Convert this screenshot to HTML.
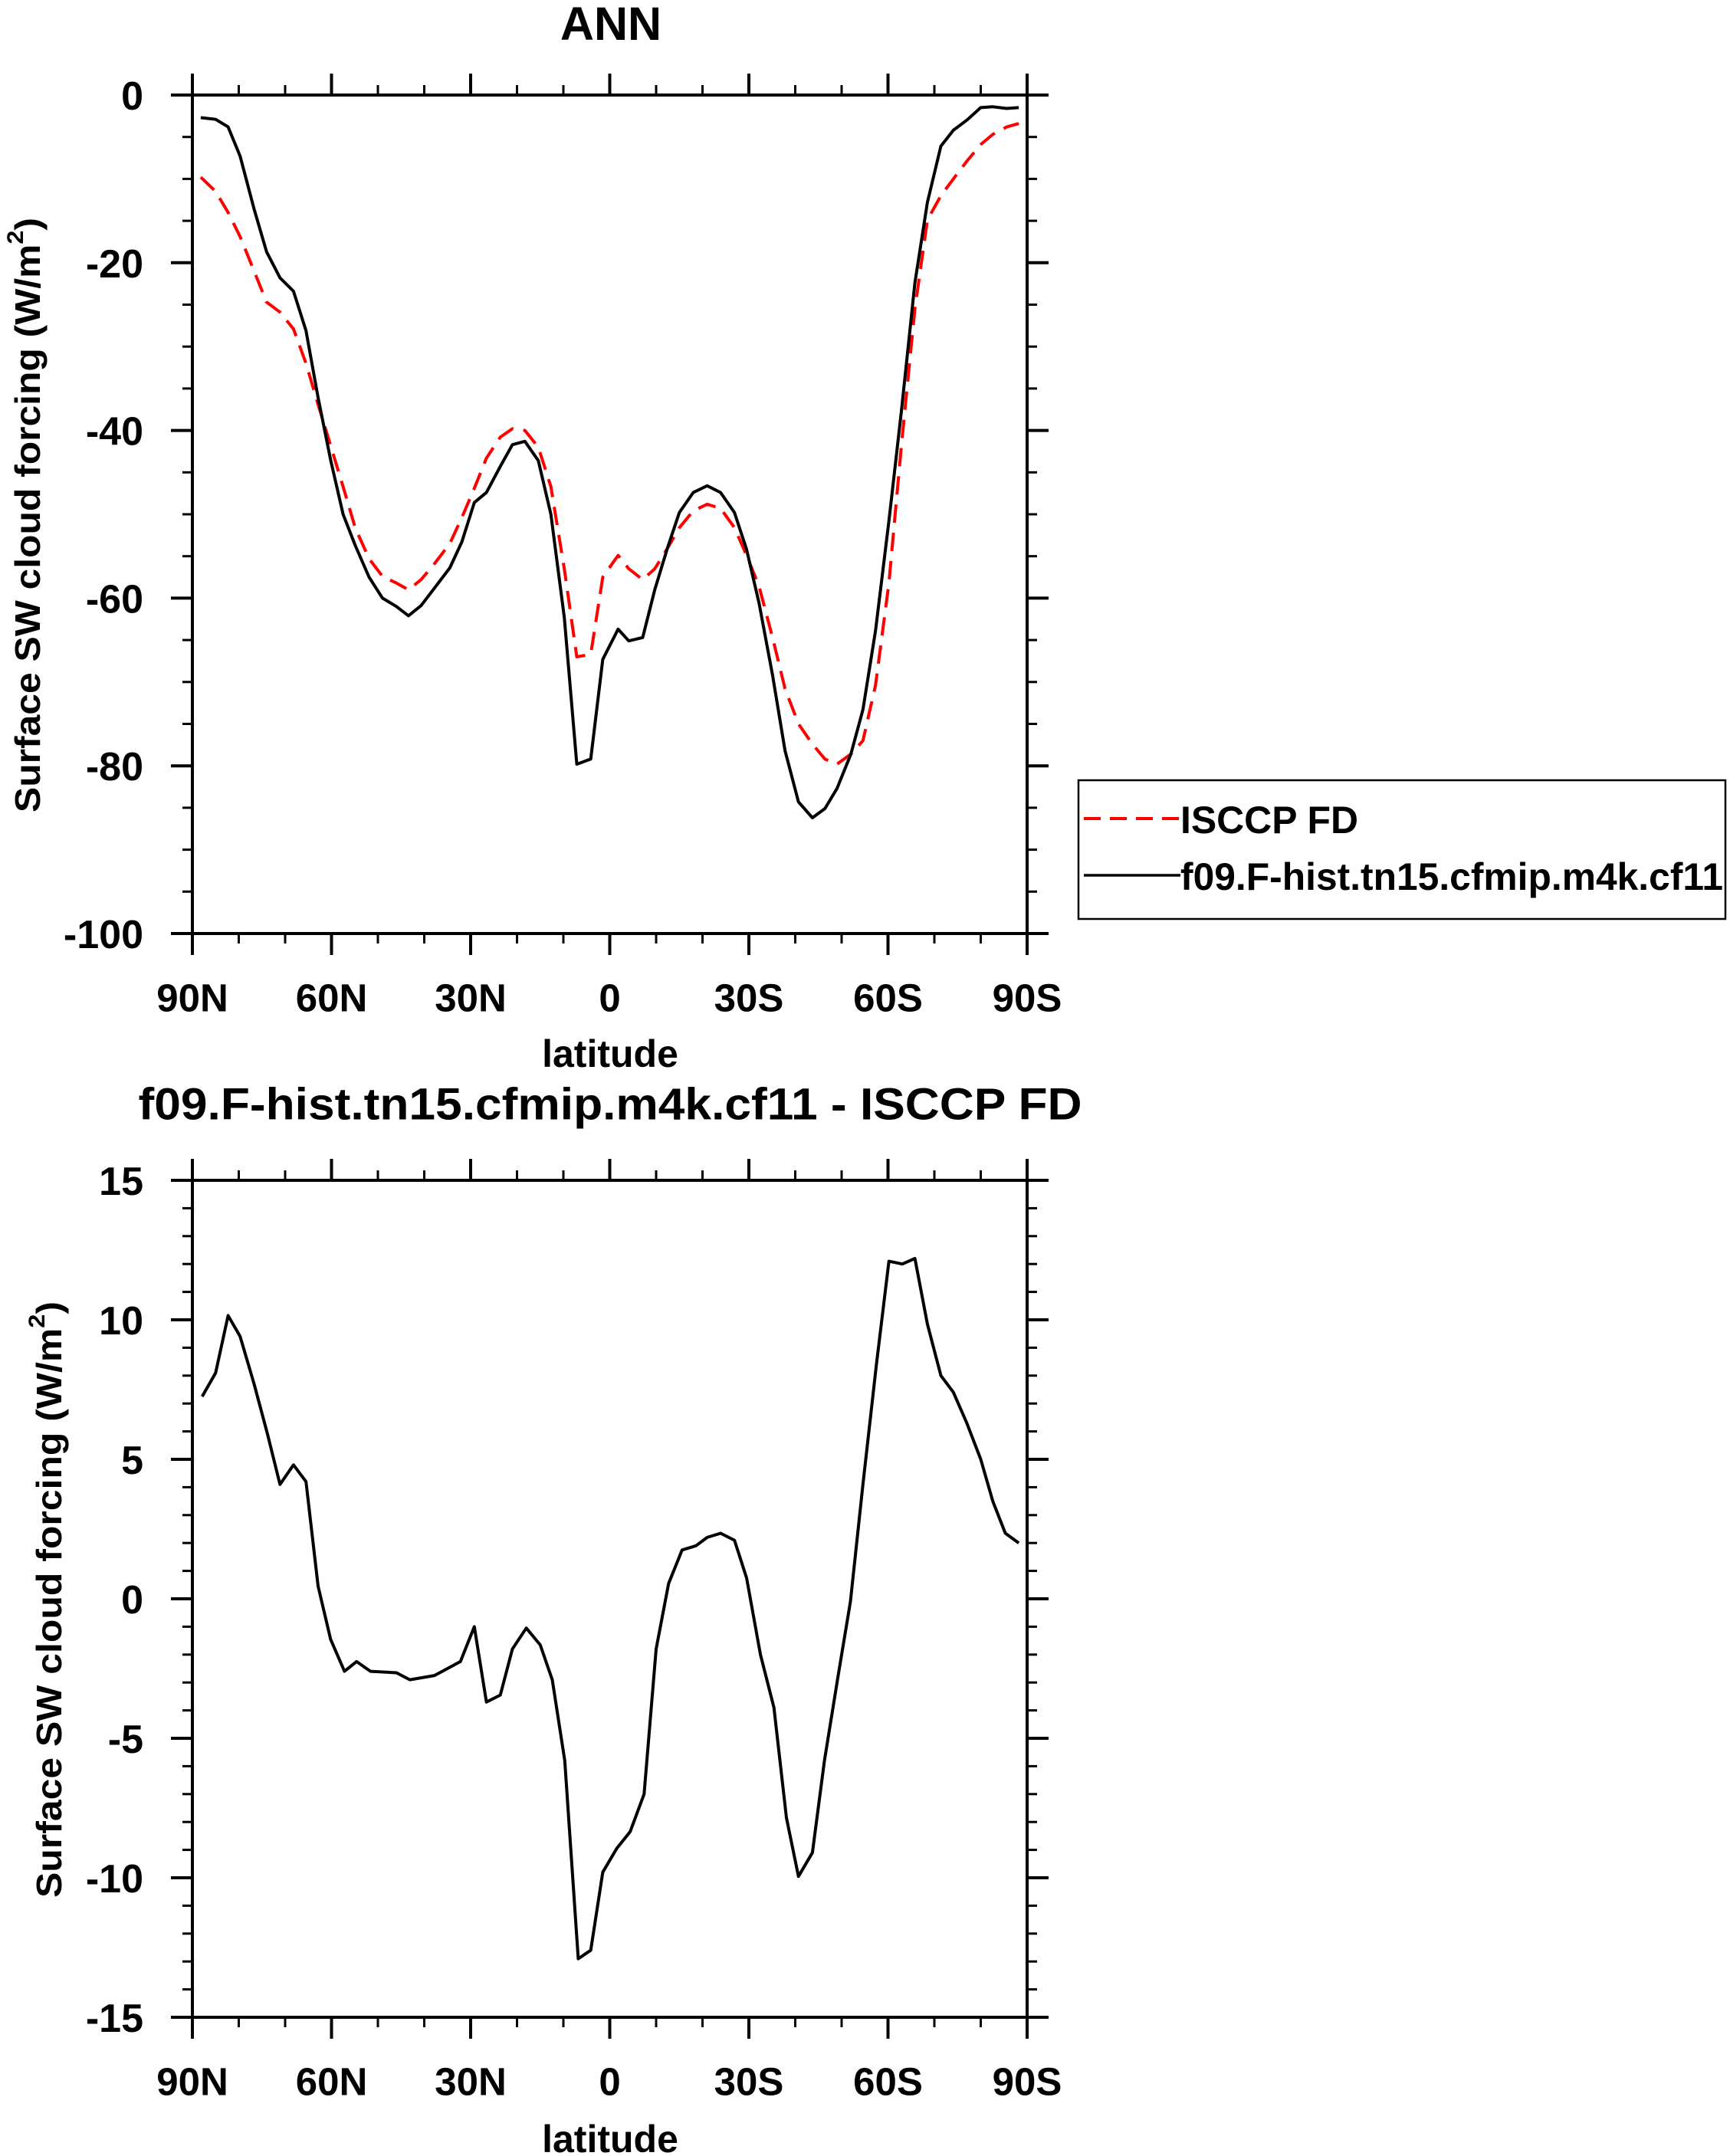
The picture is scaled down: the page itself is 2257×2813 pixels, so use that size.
<!DOCTYPE html>
<html><head><meta charset="utf-8"><style>
html,body{margin:0;padding:0;background:#fff;}
svg{display:block;font-family:"Liberation Sans",Arial,sans-serif;font-weight:bold;}
</style></head><body>
<svg id="chart" width="2257" height="2813" viewBox="0 0 2257 2813">
<text x="797" y="31" font-size="61" text-anchor="middle" dominant-baseline="central">ANN</text>
<text x="796" y="1441" font-size="58" text-anchor="middle" dominant-baseline="central" textLength="1231" lengthAdjust="spacingAndGlyphs">f09.F-hist.tn15.cfmip.m4k.cf11 - ISCCP FD</text>
<text transform="translate(36,672) rotate(-90)" font-size="46" text-anchor="middle" dominant-baseline="central" textLength="776" lengthAdjust="spacingAndGlyphs">Surface SW cloud forcing (W/m<tspan font-size="30" dy="-16">2</tspan><tspan dy="16">)</tspan></text>
<text transform="translate(64,2087) rotate(-90)" font-size="46" text-anchor="middle" dominant-baseline="central" textLength="778" lengthAdjust="spacingAndGlyphs">Surface SW cloud forcing (W/m<tspan font-size="30" dy="-16">2</tspan><tspan dy="16">)</tspan></text>
<text x="796" y="1375" font-size="50" text-anchor="middle" dominant-baseline="central">latitude</text>
<text x="796" y="2791" font-size="50" text-anchor="middle" dominant-baseline="central">latitude</text>
<g id="top"></g>
<g id="bot"></g>
<g>
<rect x="1407" y="1018" width="844" height="181" fill="#fff" stroke="#000" stroke-width="2.5"/>
<line x1="1414" y1="1068" x2="1540" y2="1068" stroke="#ff0000" stroke-width="4" stroke-dasharray="22,12"/>
<text x="1540" y="1070" font-size="50" dominant-baseline="central" textLength="232" lengthAdjust="spacingAndGlyphs">ISCCP FD</text>
<line x1="1414" y1="1142" x2="1540" y2="1142" stroke="#000" stroke-width="3.5"/>
<text x="1540" y="1144" font-size="50" dominant-baseline="central" textLength="708" lengthAdjust="spacingAndGlyphs">f09.F-hist.tn15.cfmip.m4k.cf11</text>
</g>
</svg>
<script>
const lats=[88.2,85,82.3,79.7,76.7,74,71.1,68.2,65.5,62.9,60.2,57.5,54.9,51.9,49,46,43.4,40.7,37.8,34.5,31.9,29.2,26.6,23.6,21,18.3,15.4,12.7,9.8,7.1,4.1,1.5,-1.8,-4.1,-7.1,-9.7,-12.4,-15,-18,-21,-23.9,-26.9,-29.5,-32.2,-35.1,-37.8,-40.7,-43.7,-46.4,-49,-52,-54.6,-57.3,-60.2,-62.9,-65.8,-68.5,-71.4,-74.1,-77,-80,-82.6,-85.6,-88.2];
const modelVals=[-2.7,-2.9,-3.8,-7.3,-13.6,-18.7,-21.8,-23.4,-28.1,-36.1,-43.5,-50,-53.7,-57.5,-60,-61,-62.1,-60.9,-58.8,-56.4,-53.3,-48.6,-47.4,-44.3,-41.7,-41.3,-43.6,-50,-62.3,-79.8,-79.2,-67.3,-63.7,-65.1,-64.7,-59,-54.1,-49.8,-47.4,-46.6,-47.4,-49.8,-54.2,-60.6,-69.2,-78.2,-84.3,-86.2,-85.1,-82.7,-78.6,-73.3,-63.9,-50.8,-37.7,-22.4,-12.8,-6.1,-4.2,-3,-1.5,-1.4,-1.6,-1.5];
const obsVals=[-9.8,-11.5,-14,-16.9,-21,-24.7,-25.9,-27.9,-32,-36.9,-41.8,-46.7,-51.6,-55.3,-57.4,-58.2,-59,-57.8,-55.9,-53.5,-50.4,-46.9,-43.3,-40.8,-39.8,-40,-42,-46.7,-56.5,-67,-66.7,-57.5,-54.9,-56.5,-57.8,-56.5,-54.1,-51.6,-49.6,-48.8,-49.3,-51.6,-54.9,-58.6,-64.7,-70.8,-75,-77.4,-79.2,-79.8,-78.6,-77,-70.4,-58.2,-41.8,-25.5,-14.9,-12,-10,-7.9,-5.9,-4.7,-3.8,-3.4];
const diffLats=[87.9,85,82.3,79.7,76.7,73.8,71.1,68.2,65.5,62.9,60.2,57.2,54.6,51.6,46,43.1,37.8,32.2,29.2,26.6,23.6,21,18,15,12.4,9.7,6.8,4.1,1.5,-1.5,-4.4,-7.4,-10,-12.7,-15.6,-18.6,-21,-23.9,-26.9,-29.5,-32.5,-35.4,-38.1,-40.7,-43.7,-46.3,-49.3,-51.9,-54.6,-57.5,-60.2,-63.1,-65.8,-68.5,-71.4,-74.1,-77,-80,-82.6,-85.3,-88.2];
const diffVals=[7.25,8.1,10.15,9.4,7.7,5.9,4.1,4.8,4.2,0.45,-1.45,-2.6,-2.25,-2.6,-2.65,-2.9,-2.75,-2.25,-1,-3.7,-3.45,-1.8,-1.05,-1.65,-2.9,-5.8,-12.9,-12.6,-9.8,-8.95,-8.35,-7,-1.8,0.55,1.75,1.9,2.2,2.35,2.1,0.75,-2,-3.9,-7.85,-9.95,-9.1,-5.8,-2.7,-0.1,4.1,8.4,12.1,12,12.2,9.85,8,7.4,6.3,5,3.5,2.35,2];
const xTickVals=[90,60,30,0,-30,-60,-90];
const xTickLabels=["90N","60N","30N","0","30S","60S","90S"];
const topYTicks=[0,-20,-40,-60,-80,-100];
const botYTicks=[15,10,5,0,-5,-10,-15];

const NS="http://www.w3.org/2000/svg";
function mk(parent,tag,attrs){const e=document.createElementNS(NS,tag);for(const k in attrs)e.setAttribute(k,attrs[k]);parent.appendChild(e);return e;}
const L=251,R=1340;
function xs(lat){return L+(90-lat)/180*(R-L);}
function panel(g,T,B,ymax,ymin,majors,minorStep,name){
  const ys=v=>T+(ymax-v)/(ymax-ymin)*(B-T);
  const fr=mk(g,'rect',{x:L,y:T,width:R-L,height:B-T,fill:'none',stroke:'#000','stroke-width':4});
  
  
  for(let lat=90;lat>=-90;lat-=10){
    const maj=lat%30===0, len=maj?28:13, x=xs(lat);
    const t1=mk(g,'line',{x1:x,y1:B,x2:x,y2:B+len,stroke:'#000','stroke-width':maj?4:3});
    
    
    const t2=mk(g,'line',{x1:x,y1:T,x2:x,y2:T-len,stroke:'#000','stroke-width':maj?4:3});
    
    
  }
  xTickVals.forEach((v,i)=>{
    const t=mk(g,'text',{x:xs(v),y:B+84,'font-size':51,'text-anchor':'middle','dominant-baseline':'central'});
    t.textContent=xTickLabels[i];
    
    
  });
  for(let v=ymax;v>=ymin-1e-9;v-=minorStep){
    const maj=majors.some(m=>Math.abs(m-v)<1e-9), len=maj?28:13, y=ys(v);
    const a=mk(g,'line',{x1:L,y1:y,x2:L-len,y2:y,stroke:'#000','stroke-width':maj?4:3});
    
    
    const b=mk(g,'line',{x1:R,y1:y,x2:R+len,y2:y,stroke:'#000','stroke-width':maj?4:3});
    
    
  }
  majors.forEach(v=>{
    const t=mk(g,'text',{x:L-64,y:ys(v)+2,'font-size':52,'text-anchor':'end','dominant-baseline':'central'});
    t.textContent=String(v);
    
    
  });
  return ys;
}
function line(g,la,va,ys,attrs,nm){
  const d=la.map((l,i)=>(i?'L':'M')+xs(l).toFixed(1)+','+ys(va[i]).toFixed(1)).join('');
  const p=mk(g,'path',Object.assign({d:d,fill:'none','stroke-linejoin':'round'},attrs));
  
  
}
const gt=document.getElementById('top'), gb=document.getElementById('bot');
const ysT=panel(gt,124,1218,0,-100,topYTicks,5,'top');
line(gt,lats,obsVals,ysT,{stroke:'#ff0000','stroke-width':4,'stroke-dasharray':'24,13'},'isccp-fd-line');
line(gt,lats,modelVals,ysT,{stroke:'#000','stroke-width':4},'model-line');
const ysB=panel(gb,1540,2632,15,-15,botYTicks,1,'bottom');
line(gb,diffLats,diffVals,ysB,{stroke:'#000','stroke-width':4},'difference-line');
</script>
</body></html>
